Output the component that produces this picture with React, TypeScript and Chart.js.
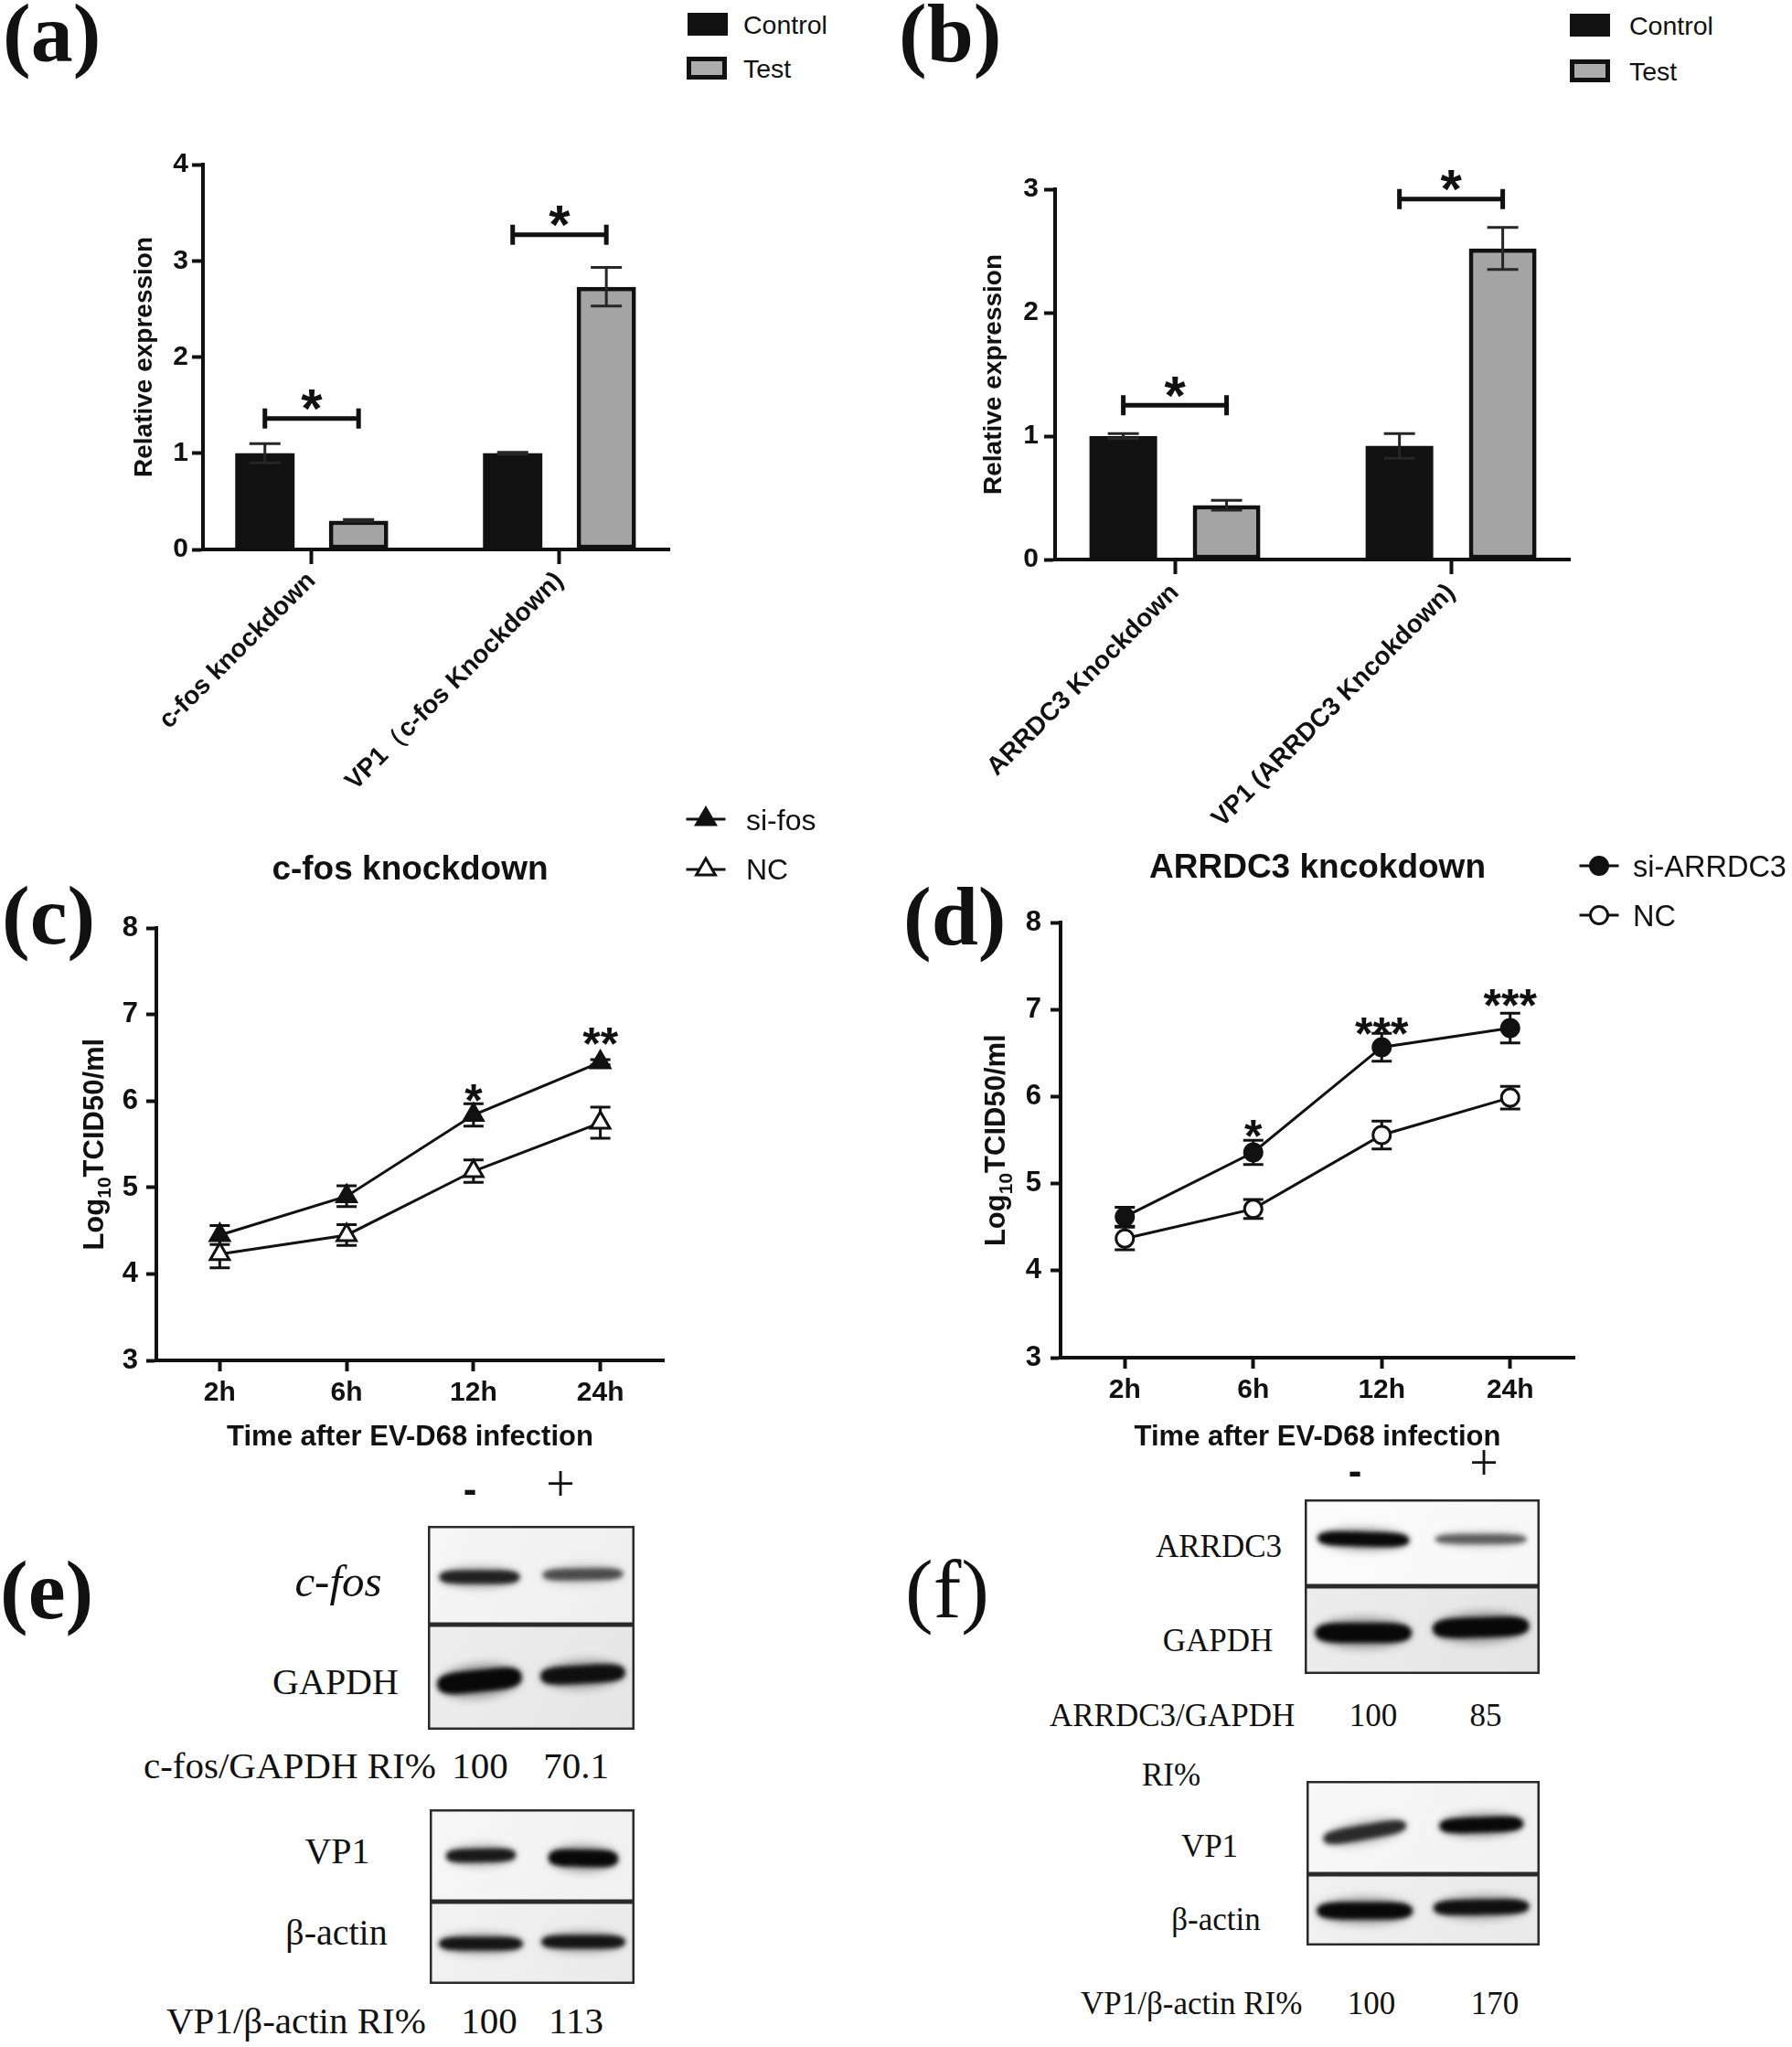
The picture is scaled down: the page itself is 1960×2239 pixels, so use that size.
import React, { useEffect, useRef } from 'react';
import { Chart, registerables } from 'chart.js';

Chart.register(...registerables);

const SANS = "'Liberation Sans', Arial, Helvetica, sans-serif";
const SERIF = "'Liberation Serif', 'Times New Roman', Times, serif";
const INK = '#111111';
const TEST_GRAY = '#a4a4a4';

Chart.defaults.font.family = SANS;
Chart.defaults.color = INK;

// ---------------- (a) ----------------
const catsA = ['c-fos knockdown', 'VP1（c-fos Knockdown)'];
const controlA = [1.0, 1.0];
const controlErrA = [0.1, 0.01];
const testA = [0.3, 2.73];
const testErrA = [0.01, 0.2];
const bracketA = [1.36, 3.27];
const starsA = ['*', '*'];

// ---------------- (b) ----------------
const catsB = ['ARRDC3 Knockdown', 'VP1 (ARRDC3 Kncokdown)'];
const controlB = [1.0, 0.92];
const controlErrB = [0.02, 0.1];
const testB = [0.44, 2.52];
const testErrB = [0.04, 0.17];
const bracketB = [1.25, 2.92];
const starsB = ['*', '*'];

const barSeries = ['Control', 'Test'];

// ---------------- (c) ----------------
const hours = ['2h', '6h', '12h', '24h'];
const siFos = [4.45, 4.9, 5.84, 6.45];
const siFosErr = [0.11, 0.12, 0.13, 0.03];
const ncC = [4.23, 4.45, 5.19, 5.75];
const ncCErr = [0.16, 0.12, 0.13, 0.18];
const starsC = ['', '', '*', '**'];
const starLevelC = [0, 0, 6.13, 6.79];

// ---------------- (d) ----------------
const siArrdc3 = [4.62, 5.36, 6.57, 6.79];
const siArrdc3Err = [0.11, 0.14, 0.16, 0.17];
const ncD = [4.37, 4.71, 5.56, 5.99];
const ncDErr = [0.13, 0.11, 0.16, 0.13];
const starsD = ['', '*', '***', '***'];
const starLevelD = [0, 5.67, 6.84, 7.17];

// ---------------- (e)/(f) blots ----------------
const lanes = ['-', '+'];
const cfosBand = [0.85, 0.62];
const gapdhBandE = [1.0, 0.95];
const vp1BandE = [0.9, 1.0];
const actinBandE = [0.92, 0.92];
const arrdc3Band = [1.0, 0.55];
const gapdhBandF = [1.0, 1.0];
const vp1BandF = [0.8, 1.0];
const actinBandF = [1.0, 0.95];
const riCfos = ['100', '70.1'];
const riVp1E = ['100', '113'];
const riArrdc3 = ['100', '85'];
const riVp1F = ['100', '170'];

// ---------------- plugins ----------------
function errorBars(id: string, errs: number[][], cap: number, width: number, color: string, before: boolean) {
  const draw = (chart: any) => {
    const { ctx } = chart;
    const ys = chart.scales.y;
    errs.forEach((list, di) => {
      const meta = chart.getDatasetMeta(di);
      const ds = chart.data.datasets[di];
      meta.data.forEach((el: any, i: number) => {
        const raw: any = ds.data[i];
        const v = typeof raw === 'number' ? raw : raw.y;
        const e = list[i];
        if (e == null) return;
        const x = el.x;
        const t = ys.getPixelForValue(v + e);
        const b = ys.getPixelForValue(v - e);
        ctx.save();
        ctx.strokeStyle = color;
        ctx.lineWidth = width;
        ctx.beginPath();
        ctx.moveTo(x, t);
        ctx.lineTo(x, b);
        ctx.moveTo(x - cap / 2, t);
        ctx.lineTo(x + cap / 2, t);
        ctx.moveTo(x - cap / 2, b);
        ctx.lineTo(x + cap / 2, b);
        ctx.stroke();
        ctx.restore();
      });
    });
  };
  return {
    id,
    beforeDatasetsDraw(c: any) { if (before) draw(c); },
    afterDatasetsDraw(c: any) { if (!before) draw(c); },
  };
}

function bracketPlugin(levels: number[], stars: string[], starSize: number) {
  return {
    id: 'brackets',
    afterDatasetsDraw(chart: any) {
      const { ctx } = chart;
      const y = chart.scales.y;
      const m0 = chart.getDatasetMeta(0);
      const m1 = chart.getDatasetMeta(1);
      levels.forEach((lv, i) => {
        const x1 = m0.data[i].x;
        const x2 = m1.data[i].x;
        const yy = y.getPixelForValue(lv);
        ctx.save();
        ctx.strokeStyle = INK;
        ctx.lineWidth = 5;
        ctx.beginPath();
        ctx.moveTo(x1, yy);
        ctx.lineTo(x2, yy);
        ctx.moveTo(x1, yy - 11);
        ctx.lineTo(x1, yy + 11);
        ctx.moveTo(x2, yy - 11);
        ctx.lineTo(x2, yy + 11);
        ctx.stroke();
        ctx.font = `bold ${starSize}px ${SANS}`;
        ctx.fillStyle = INK;
        ctx.textAlign = 'center';
        ctx.textBaseline = 'alphabetic';
        ctx.fillText(stars[i], (x1 + x2) / 2, yy - 25 + 0.575 * starSize);
        ctx.restore();
      });
    },
  };
}

function starsPlugin(labels: string[], levels: number[], size: number) {
  return {
    id: 'stars',
    afterDatasetsDraw(chart: any) {
      const { ctx } = chart;
      const xs = chart.scales.x;
      const ys = chart.scales.y;
      labels.forEach((t, i) => {
        if (!t) return;
        const px = xs.getPixelForValue(i);
        const py = ys.getPixelForValue(levels[i]);
        ctx.save();
        ctx.font = `bold ${size}px ${SANS}`;
        ctx.fillStyle = INK;
        ctx.textAlign = 'center';
        ctx.textBaseline = 'alphabetic';
        ctx.fillText(t, px, py + 0.575 * size);
        ctx.restore();
      });
    },
  };
}

function logTitlePlugin(offset: number) {
  return {
    id: 'logTitle',
    afterDraw(chart: any) {
      const { ctx, chartArea } = chart;
      const cx = chartArea.left - offset;
      const cy = (chartArea.top + chartArea.bottom) / 2;
      const big = `bold 31px ${SANS}`;
      const small = `bold 21px ${SANS}`;
      ctx.save();
      ctx.translate(cx, cy);
      ctx.rotate(-Math.PI / 2);
      ctx.font = big;
      const w1 = ctx.measureText('Log').width;
      const w3 = ctx.measureText('TCID50/ml').width;
      ctx.font = small;
      const w2 = ctx.measureText('10').width;
      let x = -(w1 + w2 + w3) / 2;
      const base = 9;
      ctx.fillStyle = INK;
      ctx.textAlign = 'left';
      ctx.textBaseline = 'alphabetic';
      ctx.font = big;
      ctx.fillText('Log', x, base);
      x += w1;
      ctx.font = small;
      ctx.fillText('10', x, base + 8);
      x += w2;
      ctx.font = big;
      ctx.fillText('TCID50/ml', x, base);
      ctx.restore();
    },
  };
}

function drawBand(ctx: CanvasRenderingContext2D, cx: number, cy: number, w: number, h: number, v: number, tilt: number) {
  ctx.save();
  ctx.translate(cx, cy);
  ctx.rotate((tilt * Math.PI) / 180);
  ctx.filter = 'blur(5px)';
  ctx.fillStyle = `rgba(0,0,0,${0.32 * v})`;
  ctx.beginPath();
  ctx.ellipse(0, 0, w / 2, h * 0.8, 0, 0, Math.PI * 2);
  ctx.fill();
  ctx.filter = 'blur(2.5px)';
  ctx.fillStyle = `rgba(0,0,0,${Math.min(1, 0.9 * v + 0.05)})`;
  ctx.beginPath();
  ctx.moveTo(-w / 2, 0);
  ctx.bezierCurveTo(-w / 2, -h * 0.55, -w * 0.3, -h / 2, 0, -h / 2);
  ctx.bezierCurveTo(w * 0.3, -h / 2, w / 2, -h * 0.55, w / 2, 0);
  ctx.bezierCurveTo(w / 2, h * 0.55, w * 0.3, h / 2, 0, h / 2);
  ctx.bezierCurveTo(-w * 0.3, h / 2, -w / 2, h * 0.55, -w / 2, 0);
  ctx.fill();
  ctx.restore();
}

type BandStyle = { bp: number; h: number[]; tilt: number[]; dy: number[]; bg: [string, string] };

function bandPlugin(st: BandStyle) {
  return {
    id: 'bands',
    beforeDatasetsDraw(chart: any) {
      const { ctx, chartArea: a } = chart;
      ctx.save();
      const g = ctx.createLinearGradient(a.left, a.top, a.right, a.bottom);
      g.addColorStop(0, st.bg[0]);
      g.addColorStop(1, st.bg[1]);
      ctx.fillStyle = g;
      ctx.fillRect(a.left, a.top, a.right - a.left, a.bottom - a.top);
      ctx.restore();
      const meta = chart.getDatasetMeta(0);
      const cy0 = (a.top + a.bottom) / 2;
      meta.data.forEach((el: any, i: number) => {
        const v = chart.data.datasets[0].data[i] as number;
        drawBand(ctx, el.x, cy0 + st.dy[i], el.width, st.h[i], v, st.tilt[i]);
      });
    },
    afterDraw(chart: any) {
      const { ctx, chartArea: a } = chart;
      ctx.save();
      ctx.strokeStyle = '#2a2a2a';
      ctx.lineWidth = 2.5;
      ctx.strokeRect(a.left + 1.25, a.top + 1.25, a.right - a.left - 2.5, a.bottom - a.top - 2.5);
      ctx.restore();
    },
  };
}

// ---------------- configs ----------------
type BarOpts = {
  cats: string[]; control: number[]; controlErr: number[]; test: number[]; testErr: number[];
  brackets: number[]; stars: string[]; yMax: number; xMin: number; xMax: number; cp: number; bp: number;
  padding: { left: number; right: number; top: number; bottom: number }; yWidth: number; xHeight: number;
  yTickPad: number; xTickPad: number;
};

function barConfig(p: BarOpts): any {
  return {
    type: 'bar',
    data: {
      datasets: [
        {
          label: barSeries[0],
          data: p.control.map((v, i) => ({ x: i, y: v })),
          backgroundColor: INK, borderColor: INK, borderWidth: 0, borderSkipped: false,
          categoryPercentage: p.cp, barPercentage: p.bp,
        },
        {
          label: barSeries[1],
          data: p.test.map((v, i) => ({ x: i, y: v })),
          backgroundColor: TEST_GRAY, borderColor: INK, borderWidth: 5, borderSkipped: false,
          categoryPercentage: p.cp, barPercentage: p.bp,
        },
      ],
    },
    options: {
      responsive: false,
      animation: false,
      events: [],
      layout: { padding: p.padding },
      plugins: { legend: { display: false }, tooltip: { enabled: false }, title: { display: false } },
      scales: {
        x: {
          type: 'linear', min: p.xMin, max: p.xMax, offset: false,
          afterBuildTicks: (s: any) => { s.ticks = p.cats.map((_, i) => ({ value: i })); },
          afterFit: (s: any) => { s.height = p.xHeight; },
          grid: { display: true, drawOnChartArea: false, offset: false, tickLength: 16, tickWidth: 4, tickColor: INK },
          border: { display: true, color: INK, width: 4 },
          ticks: {
            autoSkip: false, minRotation: 45, maxRotation: 45, padding: p.xTickPad, color: INK,
            font: { family: SANS, size: 28, weight: 'bold' },
            callback: (v: any) => p.cats[Math.round(Number(v))] ?? '',
          },
        },
        y: {
          type: 'linear', min: 0, max: p.yMax,
          afterFit: (s: any) => { s.width = p.yWidth; },
          grid: { display: true, drawOnChartArea: false, tickLength: 12, tickWidth: 4, tickColor: INK },
          border: { display: true, color: INK, width: 4 },
          ticks: { stepSize: 1, padding: p.yTickPad, color: INK, font: { family: SANS, size: 30, weight: 'bold' } },
          title: {
            display: true, text: 'Relative expression', color: INK,
            font: { family: SANS, size: 28, weight: 'bold' }, padding: { top: 0, bottom: 0 },
          },
        },
      },
    },
    plugins: [
      errorBars('errBars', [p.controlErr, p.testErr], 34, 3, '#262626', false),
      bracketPlugin(p.brackets, p.stars, 60),
    ],
  };
}

type Series = { label: string; data: number[]; err: number[]; filled: boolean; shape: string; radius: number };
type LineOpts = {
  title: string; series: Series[]; stars: string[]; starLevels: number[];
  padding: { left: number; right: number; top: number; bottom: number };
  titleGap: number; xTitleGap: number; yTickPad: number; yTitleOffset: number;
};

function lineConfig(o: LineOpts): any {
  return {
    type: 'line',
    data: {
      labels: hours,
      datasets: o.series.map((s) => ({
        label: s.label,
        data: s.data,
        borderColor: INK,
        borderWidth: 3,
        pointStyle: s.shape,
        pointRadius: s.radius,
        pointBorderWidth: 3,
        pointBackgroundColor: s.filled ? INK : '#ffffff',
        pointBorderColor: INK,
        tension: 0,
        fill: false,
      })),
    },
    options: {
      responsive: false,
      animation: false,
      events: [],
      layout: { padding: o.padding },
      plugins: {
        legend: { display: false },
        tooltip: { enabled: false },
        title: {
          display: true, text: o.title, color: INK, fullSize: false,
          font: { family: SANS, size: 37, weight: 'bold' }, padding: { top: 0, bottom: o.titleGap },
        },
      },
      scales: {
        x: {
          type: 'category', offset: true,
          afterFit: (s: any) => { s.height = 110; },
          grid: { display: true, drawOnChartArea: false, offset: false, tickLength: 12, tickWidth: 4, tickColor: INK },
          border: { display: true, color: INK, width: 4 },
          ticks: { padding: 6, color: INK, font: { family: SANS, size: 30, weight: 'bold' } },
          title: {
            display: true, text: 'Time after EV-D68 infection', color: INK,
            font: { family: SANS, size: 31, weight: 'bold' }, padding: { top: 0, bottom: o.xTitleGap },
          },
        },
        y: {
          type: 'linear', min: 3, max: 8,
          afterFit: (s: any) => { s.width = 60; },
          grid: { display: true, drawOnChartArea: false, tickLength: 11, tickWidth: 4, tickColor: INK },
          border: { display: true, color: INK, width: 4 },
          ticks: { stepSize: 1, padding: o.yTickPad, color: INK, font: { family: SANS, size: 31, weight: 'bold' } },
        },
      },
    },
    plugins: [
      errorBars('errLines', o.series.map((s) => s.err), 22, 3, INK, true),
      starsPlugin(o.stars, o.starLevels, 50),
      logTitlePlugin(o.yTitleOffset),
    ],
  };
}

function blotConfig(bands: number[], st: BandStyle): any {
  return {
    type: 'bar',
    data: {
      labels: lanes,
      datasets: [{ data: bands, backgroundColor: 'rgba(0,0,0,0)', borderWidth: 0, barPercentage: st.bp, categoryPercentage: 1 }],
    },
    options: {
      responsive: false,
      animation: false,
      events: [],
      layout: { padding: 0 },
      plugins: { legend: { display: false }, tooltip: { enabled: false } },
      scales: { x: { display: false, offset: true }, y: { display: false, min: 0, max: 1 } },
    },
    plugins: [bandPlugin(st)],
  };
}

// ---------------- components ----------------
function ChartBox({ left, top, width, height, make }: { left: number; top: number; width: number; height: number; make: () => any }) {
  const ref = useRef<HTMLCanvasElement>(null);
  useEffect(() => {
    const chart = new Chart(ref.current as HTMLCanvasElement, make());
    return () => chart.destroy();
  }, []);
  return (
    <canvas
      ref={ref}
      width={width}
      height={height}
      style={{ position: 'absolute', left, top, width, height, display: 'block' }}
    />
  );
}

type TP = { x: number; y: number; t: string; size: number; fam?: string; w?: any; it?: boolean; al?: 'l' | 'c' | 'r' };
function T({ x, y, t, size, fam = SANS, w = 'normal', it = false, al = 'l' }: TP) {
  const tx = al === 'l' ? '0%' : al === 'c' ? '-50%' : '-100%';
  return (
    <div
      style={{
        position: 'absolute', left: x, top: y, transform: `translate(${tx}, -50%)`,
        fontFamily: fam, fontSize: size, fontWeight: w, fontStyle: it ? 'italic' : 'normal',
        lineHeight: 1, whiteSpace: 'nowrap', color: INK,
      }}
    >
      {t}
    </div>
  );
}

function LegMark({ cx, cy, shape, filled }: { cx: number; cy: number; shape: string; filled: boolean }) {
  const W = 50;
  const H = 34;
  const c = H / 2;
  return (
    <svg width={W} height={H} style={{ position: 'absolute', left: cx - W / 2, top: cy - H / 2, overflow: 'visible' }}>
      <line x1={3.5} y1={c} x2={46.5} y2={c} stroke={INK} strokeWidth={3} />
      {shape === 'triangle' ? (
        <polygon
          points={`25,${c - 12} ${25 + 10.4},${c + 6} ${25 - 10.4},${c + 6}`}
          fill={filled ? INK : '#ffffff'}
          stroke={INK}
          strokeWidth={3}
        />
      ) : (
        <circle cx={25} cy={c} r={9.5} fill={filled ? INK : '#ffffff'} stroke={INK} strokeWidth={3} />
      )}
    </svg>
  );
}

function BoxKey({ x, y, gray }: { x: number; y: number; gray: boolean }) {
  return (
    <div
      style={{
        position: 'absolute', left: x, top: y, width: 44, height: 25, boxSizing: 'border-box',
        background: gray ? '#acacac' : INK, border: gray ? `5px solid ${INK}` : 'none',
      }}
    />
  );
}

const stE1: BandStyle = { bp: 0.78, h: [15, 13], tilt: [0, -1], dy: [2, -1], bg: ['#f6f6f6', '#eeeeee'] };
const stE2: BandStyle = { bp: 0.82, h: [24, 20], tilt: [-6, -3], dy: [4, -3], bg: ['#eeeeee', '#e5e5e5'] };
const stE3: BandStyle = { bp: 0.68, h: [15, 19], tilt: [-1, 1], dy: [0, 3], bg: ['#f7f7f7', '#f0f0f0'] };
const stE4: BandStyle = { bp: 0.82, h: [15, 15], tilt: [0, 0], dy: [1, -1], bg: ['#f2f2f2', '#eaeaea'] };
const stF1: BandStyle = { bp: 0.78, h: [16, 11], tilt: [1.5, 0], dy: [-4, -4], bg: ['#fcfcfc', '#f7f7f7'] };
const stF2: BandStyle = { bp: 0.82, h: [22, 22], tilt: [0, -2], dy: [3, -3], bg: ['#ededed', '#e4e4e4'] };
const stF3: BandStyle = { bp: 0.72, h: [16, 17], tilt: [-10, -2], dy: [5, -3], bg: ['#f8f8f8', '#f1f1f1'] };
const stF4: BandStyle = { bp: 0.82, h: [19, 17], tilt: [0, -1], dy: [1, -3], bg: ['#f1f1f1', '#e9e9e9'] };

export default function App() {
  useEffect(() => {
    document.body.style.margin = '0';
  }, []);

  return (
    <div style={{ position: 'relative', width: 1960, height: 2239, background: '#ffffff', overflow: 'hidden' }}>
      <style>{'body{margin:0;background:#fff}'}</style>

      {/* (a) */}
      <ChartBox
        left={0} top={100} width={800} height={800}
        make={() => barConfig({
          cats: catsA, control: controlA, controlErr: controlErrA, test: testA, testErr: testErrA,
          brackets: bracketA, stars: starsA, yMax: 4, xMin: -0.439, xMax: 1.443, cp: 0.756, bp: 0.634,
          padding: { left: 141, right: 68, top: 80, bottom: 19 }, yWidth: 81, xHeight: 280, yTickPad: 4, xTickPad: 2,
        })}
      />
      {/* (b) */}
      <ChartBox
        left={960} top={100} width={840} height={850}
        make={() => barConfig({
          cats: catsB, control: controlB, controlErr: controlErrB, test: testB, testErr: testErrB,
          brackets: bracketB, stars: starsB, yMax: 3, xMin: -0.434, xMax: 1.43, cp: 0.748, bp: 0.655,
          padding: { left: 110, right: 83, top: 107, bottom: 38 }, yWidth: 84, xHeight: 300, yTickPad: 6, xTickPad: 4,
        })}
      />
      {/* (c) */}
      <ChartBox
        left={0} top={880} width={800} height={760}
        make={() => lineConfig({
          title: 'c-fos knockdown',
          series: [
            { label: 'si-fos', data: siFos, err: siFosErr, filled: true, shape: 'triangle', radius: 12 },
            { label: 'NC', data: ncC, err: ncCErr, filled: false, shape: 'triangle', radius: 12 },
          ],
          stars: starsC, starLevels: starLevelC,
          padding: { left: 111, right: 74, top: 50, bottom: 42 }, titleGap: 41, xTitleGap: 7.4, yTickPad: 9, yTitleOffset: 67,
        })}
      />
      {/* (d) */}
      <ChartBox
        left={960} top={880} width={840} height={760}
        make={() => lineConfig({
          title: 'ARRDC3 kncokdown',
          series: [
            { label: 'si-ARRDC3', data: siArrdc3, err: siArrdc3Err, filled: true, shape: 'circle', radius: 9.5 },
            { label: 'NC', data: ncD, err: ncDErr, filled: false, shape: 'circle', radius: 9.5 },
          ],
          stars: starsD, starLevels: starLevelD,
          padding: { left: 140, right: 78, top: 48, bottom: 45 }, titleGap: 37, xTitleGap: 4.4, yTickPad: 10, yTitleOffset: 70,
        })}
      />

      {/* blots (e) */}
      <ChartBox left={468} top={1669} width={226} height={108} make={() => blotConfig(cfosBand, stE1)} />
      <ChartBox left={468} top={1777} width={226} height={115} make={() => blotConfig(gapdhBandE, stE2)} />
      <ChartBox left={470} top={1979} width={224} height={101} make={() => blotConfig(vp1BandE, stE3)} />
      <ChartBox left={470} top={2080} width={224} height={90} make={() => blotConfig(actinBandE, stE4)} />
      {/* blots (f) */}
      <ChartBox left={1427} top={1640} width={257} height={95} make={() => blotConfig(arrdc3Band, stF1)} />
      <ChartBox left={1427} top={1735} width={257} height={96} make={() => blotConfig(gapdhBandF, stF2)} />
      <ChartBox left={1429} top={1948} width={255} height={102} make={() => blotConfig(vp1BandF, stF3)} />
      <ChartBox left={1429} top={2050} width={255} height={78} make={() => blotConfig(actinBandF, stF4)} />

      {/* panel letters */}
      <T x={3} y={36} t="(a)" size={92} fam={SERIF} w="bold" />
      <T x={983} y={36} t="(b)" size={92} fam={SERIF} w="bold" />
      <T x={2} y={1001} t="(c)" size={92} fam={SERIF} w="bold" />
      <T x={988} y={1002} t="(d)" size={92} fam={SERIF} w="bold" />
      <T x={0} y={1739} t="(e)" size={92} fam={SERIF} w="bold" />
      <T x={990} y={1738} t="(f)" size={92} fam={SERIF} />

      {/* legends (a), (b) */}
      <BoxKey x={752} y={14} gray={false} />
      <BoxKey x={751} y={62} gray={true} />
      <T x={813} y={27} t={barSeries[0]} size={28.5} />
      <T x={813} y={75} t={barSeries[1]} size={28.5} />
      <BoxKey x={1717} y={15} gray={false} />
      <BoxKey x={1717} y={65} gray={true} />
      <T x={1782} y={28} t={barSeries[0]} size={28.5} />
      <T x={1782} y={78} t={barSeries[1]} size={28.5} />

      {/* legends (c), (d) */}
      <LegMark cx={772} cy={896} shape="triangle" filled={true} />
      <T x={816} y={897} t="si-fos" size={32} />
      <LegMark cx={772} cy={951} shape="triangle" filled={false} />
      <T x={816} y={951} t="NC" size={32} />
      <LegMark cx={1749} cy={947} shape="circle" filled={true} />
      <T x={1786} y={948} t="si-ARRDC3" size={32.5} />
      <LegMark cx={1749} cy={1001} shape="circle" filled={false} />
      <T x={1786} y={1002} t="NC" size={32.5} />

      {/* (e) texts */}
      <T x={514} y={1629} t={lanes[0]} size={44} w="bold" al="c" />
      <T x={613} y={1623} t={lanes[1]} size={56} fam={SERIF} al="c" />
      <T x={370} y={1729} t="c-fos" size={49} fam={SERIF} it al="c" />
      <T x={367} y={1840} t="GAPDH" size={40} fam={SERIF} al="c" />
      <T x={157} y={1931} t="c-fos/GAPDH RI%" size={41} fam={SERIF} />
      <T x={525} y={1931} t={riCfos[0]} size={41} fam={SERIF} al="c" />
      <T x={630} y={1931} t={riCfos[1]} size={41} fam={SERIF} al="c" />
      <T x={369} y={2025} t="VP1" size={40} fam={SERIF} al="c" />
      <T x={368} y={2114} t="β-actin" size={40} fam={SERIF} al="c" />
      <T x={182} y={2210} t="VP1/β-actin RI%" size={41} fam={SERIF} />
      <T x={535} y={2210} t={riVp1E[0]} size={41} fam={SERIF} al="c" />
      <T x={630} y={2210} t={riVp1E[1]} size={41} fam={SERIF} al="c" />

      {/* (f) texts */}
      <T x={1482} y={1609} t={lanes[0]} size={44} w="bold" al="c" />
      <T x={1623} y={1600} t={lanes[1]} size={56} fam={SERIF} al="c" />
      <T x={1333} y={1691} t="ARRDC3" size={35} fam={SERIF} al="c" />
      <T x={1332} y={1794} t="GAPDH" size={35} fam={SERIF} al="c" />
      <T x={1148} y={1876} t="ARRDC3/GAPDH" size={35} fam={SERIF} />
      <T x={1502} y={1876} t={riArrdc3[0]} size={35} fam={SERIF} al="c" />
      <T x={1625} y={1876} t={riArrdc3[1]} size={35} fam={SERIF} al="c" />
      <T x={1249} y={1941} t="RI%" size={35} fam={SERIF} />
      <T x={1323} y={2019} t="VP1" size={35} fam={SERIF} al="c" />
      <T x={1330} y={2099} t="β-actin" size={35} fam={SERIF} al="c" />
      <T x={1182} y={2191} t="VP1/β-actin RI%" size={35} fam={SERIF} />
      <T x={1500} y={2191} t={riVp1F[0]} size={35} fam={SERIF} al="c" />
      <T x={1635} y={2191} t={riVp1F[1]} size={35} fam={SERIF} al="c" />
    </div>
  );
}
